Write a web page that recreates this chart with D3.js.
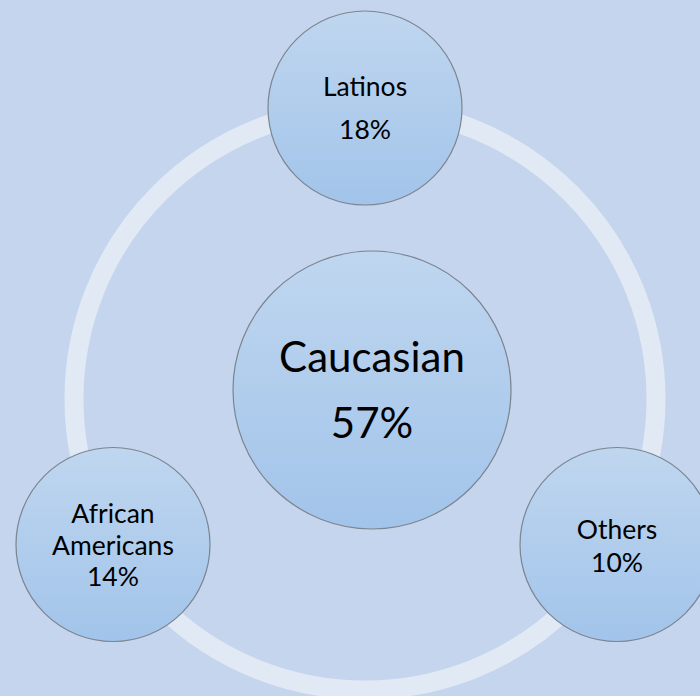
<!DOCTYPE html>
<html>
<head>
<meta charset="utf-8">
<script src="https://cdn.jsdelivr.net/npm/d3@7/dist/d3.min.js"></script>
<style>
  html, body { margin: 0; padding: 0; background: #c4d5ed; }
  svg { display: block; }
</style>
</head>
<body>
<svg id="chart" width="700" height="696"></svg>
<script>
// ---- data ----
const centerCategory = "Caucasian";
const centerValue = 57;
const satelliteCategories = ["Latinos", "Others", "African Americans"];
const satelliteValues = [18, 10, 14];
const labelLines = {
  "Caucasian": ["Caucasian"],
  "Latinos": ["Latinos"],
  "Others": ["Others"],
  "African Americans": ["African", "Americans"]
};

// ---- layout (not data) ----
const W = 700, H = 696;
const cx = 365, cy = 399;
const ringR = 291, ringW = 19;
const centerPos = { x: 372, y: 390, r: 139 };
const satR = 97;
const textStyle = {
  "Caucasian": { size: 42, offsets: [-18, 48] },
  "Latinos": { size: 26.5, offsets: [-12, 31] },
  "Others": { size: 26.5, offsets: [-6, 27] },
  "African Americans": { size: 26.5, offsets: [-22, 10, 41] }
};

const svg = d3.select("#chart");
svg.append("rect").attr("width", W).attr("height", H).attr("fill", "#c4d5ed");

const defs = svg.append("defs");
const grad = defs.append("linearGradient").attr("id", "bubble")
  .attr("x1", 0).attr("y1", 0).attr("x2", 0).attr("y2", 1);
grad.append("stop").attr("offset", "0%").attr("stop-color", "#bfd6ef");
grad.append("stop").attr("offset", "100%").attr("stop-color", "#a2c4ea");

// angle scale for satellites
const angle = d3.scalePoint().domain(satelliteCategories).range([-90, 150]);

// ring
svg.append("circle")
  .attr("cx", cx).attr("cy", cy).attr("r", ringR)
  .attr("fill", "none").attr("stroke", "#e1e9f5").attr("stroke-width", ringW);

const nodes = [{ name: centerCategory, value: centerValue, x: centerPos.x, y: centerPos.y, r: centerPos.r }]
  .concat(satelliteCategories.map((c, i) => {
    const a = angle(c) * Math.PI / 180;
    return { name: c, value: satelliteValues[i], x: cx + ringR * Math.cos(a), y: cy + ringR * Math.sin(a), r: satR };
  }));

const g = svg.selectAll("g.node").data(nodes).join("g")
  .attr("class", "node")
  .attr("transform", d => `translate(${d.x},${d.y})`);

g.append("circle")
  .attr("r", d => d.r)
  .attr("fill", "url(#bubble)")
  .attr("stroke", "#7c8590")
  .attr("stroke-width", 1.2);

g.each(function(d) {
  const st = textStyle[d.name];
  const lines = labelLines[d.name].concat([d.value + "%"]);
  const t = d3.select(this).append("text")
    .attr("text-anchor", "middle")
    .attr("font-family", "Lato, 'Open Sans', sans-serif")
    .attr("font-size", st.size)
    .attr("fill", "#000");
  lines.forEach((ln, i) => {
    t.append("tspan").attr("x", 0).attr("y", st.offsets[i]).text(ln);
  });
});
</script>
</body>
</html>
